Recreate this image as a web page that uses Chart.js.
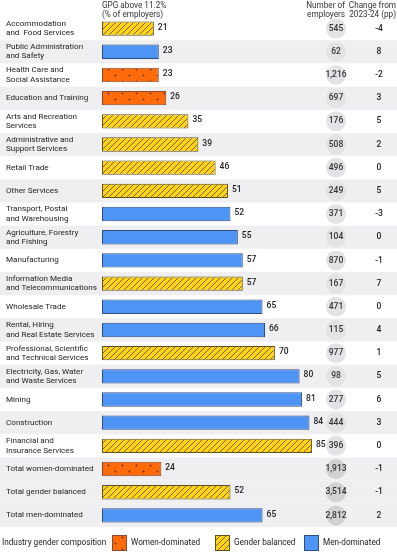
<!DOCTYPE html>
<html>
<head>
<meta charset="utf-8">
<script src="https://cdn.jsdelivr.net/npm/chart.js@4.4.1/dist/chart.umd.min.js"></script>
<style>
html,body{margin:0;padding:0;background:#fff;}
#wrap{width:397px;height:553px;position:relative;}
</style>
</head>
<body>
<div id="wrap"><canvas id="c" width="397" height="553"></canvas></div>
<script>
// ---- data ----
const categories = [
  ["Accommodation", "and  Food Services"],
  ["Public Administration", "and Safety"],
  ["Health Care and", "Social Assistance"],
  "Education and Training",
  ["Arts and Recreation", "Services"],
  ["Administrative and", "Support Services"],
  "Retail Trade",
  "Other Services",
  ["Transport, Postal", "and Warehousing"],
  ["Agriculture, Forestry", "and Fishing"],
  "Manufacturing",
  ["Information Media", "and Telecommunications"],
  "Wholesale Trade",
  ["Rental, Hiring", "and Real Estate Services"],
  ["Professional, Scientific", "and Technical Services"],
  ["Electricity, Gas, Water", "and Waste Services"],
  "Mining",
  "Construction",
  ["Financial and", "Insurance Services"],
  "Total women-dominated",
  "Total gender balanced",
  "Total men-dominated"
];
const gpgAbove = [21, 23, 23, 26, 35, 39, 46, 51, 52, 55, 57, 57, 65, 66, 70, 80, 81, 84, 85, 24, 52, 65];
const composition = ["G","M","W","W","G","G","G","G","M","M","M","G","M","M","G","M","M","M","G","W","G","M"];
const employers = [545, 62, 1216, 697, 176, 508, 496, 249, 371, 104, 870, 167, 471, 115, 977, 98, 277, 444, 396, 1913, 3514, 2812];
const changePP = [-4, 8, -2, 3, 5, 2, 0, 5, -3, 0, -1, 7, 0, 4, 1, 5, 6, 3, 0, -1, -1, 2];
const isTotal = [false,false,false,false,false,false,false,false,false,false,false,false,false,false,false,false,false,false,false,true,true,true];
const legendItems = [["W","Women-dominated"],["G","Gender balanced"],["M","Men-dominated"]];

// ---- styles ----
const FONT = "Roboto, 'Liberation Sans', sans-serif";
function makeHatch(){
  const c = document.createElement('canvas'); c.width = 6; c.height = 6;
  const g = c.getContext('2d');
  g.fillStyle = '#ffd21a'; g.fillRect(0,0,6,6);
  g.strokeStyle = 'rgba(60,50,10,0.85)'; g.lineWidth = 0.8;
  g.beginPath();
  g.moveTo(-1,7); g.lineTo(7,-1);
  g.moveTo(-4,4); g.lineTo(4,-4);
  g.moveTo(2,10); g.lineTo(10,2);
  g.stroke();
  return g.createPattern(c,'repeat');
}
function makePlus(){
  const c = document.createElement('canvas'); c.width = 14; c.height = 12;
  const g = c.getContext('2d');
  g.fillStyle = '#ff6a0a'; g.fillRect(0,0,14,12);
  g.strokeStyle = 'rgba(120,50,10,0.8)'; g.lineWidth = 0.7;
  function plus(x,y){ g.beginPath(); g.moveTo(x-1.5,y); g.lineTo(x+1.5,y); g.moveTo(x,y-1.5); g.lineTo(x,y+1.5); g.stroke(); }
  plus(3.5,3.5); plus(10.5,9.5);
  return g.createPattern(c,'repeat');
}
const fills = {G: makeHatch(), W: makePlus(), M: '#4d94f5'};
const borders = {G: '#5e5220', W: '#8a4a2e', M: '#2d4d7e'};

const tablePlugin = {
  id: 'table',
  beforeDraw(chart){
    const {ctx, scales:{y}} = chart;
    const step = y.getPixelForValue(1) - y.getPixelForValue(0);
    ctx.save();
    categories.forEach((c,i)=>{
      if (i % 2 === 1 || isTotal[i]) {
        ctx.fillStyle = '#efeff1';
        ctx.fillRect(0, y.getPixelForValue(i) - step/2, chart.width, step);
      }
    });
    ctx.restore();
  },
  afterDatasetsDraw(chart){
    const {ctx, scales:{x,y}, chartArea} = chart;
    const W = chart.width;
    const circX = W - 61, chgX = W - 18;
    ctx.save();
    // value labels
    ctx.font = "500 8.5px " + FONT;
    ctx.fillStyle = '#222';
    ctx.textBaseline = 'middle';
    ctx.textAlign = 'left';
    gpgAbove.forEach((v,i)=>{
      ctx.fillText(String(v), x.getPixelForValue(v) + 4, y.getPixelForValue(i) - 1);
    });
    // employers circles
    employers.forEach((v,i)=>{
      const cy = y.getPixelForValue(i);
      ctx.beginPath();
      ctx.arc(circX, cy, 10, 0, Math.PI*2);
      ctx.fillStyle = isTotal[i] ? '#d2d2d4' : '#e3e3e5';
      ctx.fill();
      ctx.fillStyle = '#333';
      ctx.font = "500 8.5px " + FONT;
      ctx.textAlign = 'center';
      ctx.fillText(v.toLocaleString('en-US'), circX, cy);
    });
    // change column
    ctx.font = "500 8.5px " + FONT;
    ctx.fillStyle = '#222';
    changePP.forEach((v,i)=>{
      ctx.fillText(String(v), chgX, y.getPixelForValue(i));
    });
    // headers
    ctx.font = "8.2px " + FONT;
    ctx.fillStyle = '#333';
    ctx.textAlign = 'left';
    ctx.textBaseline = 'alphabetic';
    ctx.fillText('GPG above 11.2%', chartArea.left, 8);
    ctx.fillText('(% of employers)', chartArea.left, 16.5);
    ctx.textAlign = 'right';
    ctx.fillText('Number of', W - 52, 8);
    ctx.fillText('employers', W - 52, 16.5);
    ctx.fillText('Change from', W - 1, 8);
    ctx.fillText('2023-24 (pp)', W - 1, 16.5);
    // legend
    const ly = chartArea.bottom + 16;
    ctx.textAlign = 'left';
    ctx.textBaseline = 'middle';
    ctx.fillStyle = '#222';
    ctx.font = "8.2px " + FONT;
    ctx.fillText('Industry gender composition', 2, ly);
    const boxX = [112, 215, 304];
    legendItems.forEach(([k,label],j)=>{
      const bx = boxX[j];
      ctx.fillStyle = fills[k];
      ctx.fillRect(bx, ly-8, 15, 16);
      ctx.strokeStyle = borders[k]; ctx.lineWidth = 1;
      ctx.strokeRect(bx+0.5, ly-7.5, 14, 15);
      ctx.fillStyle = '#222';
      ctx.fillText(label, bx + 19, ly);
    });
    ctx.restore();
  }
};

new Chart(document.getElementById('c'), {
  type: 'bar',
  data: {
    labels: categories,
    datasets: [{
      data: gpgAbove,
      backgroundColor: composition.map(k => fills[k]),
      borderColor: composition.map(k => borders[k]),
      borderWidth: 1,
      borderSkipped: false,
      barPercentage: 0.62,
      categoryPercentage: 1
    }]
  },
  options: {
    indexAxis: 'y',
    responsive: false,
    animation: false,
    devicePixelRatio: 1,
    layout: {padding: {left: 6, right: 48, top: 17, bottom: 26}},
    plugins: {legend: {display: false}, tooltip: {enabled: false}},
    scales: {
      x: {display: false, min: 0, max: 100},
      y: {
        grid: {display: false, drawTicks: false},
        border: {display: false},
        afterFit(scale){ scale.width = 96; },
        ticks: {
          crossAlign: 'far',
          color: '#222',
          padding: 0,
          autoSkip: false,
          font: {family: FONT, size: 8.1, lineHeight: 1.15}
        }
      }
    }
  },
  plugins: [tablePlugin]
});
</script>
</body>
</html>
